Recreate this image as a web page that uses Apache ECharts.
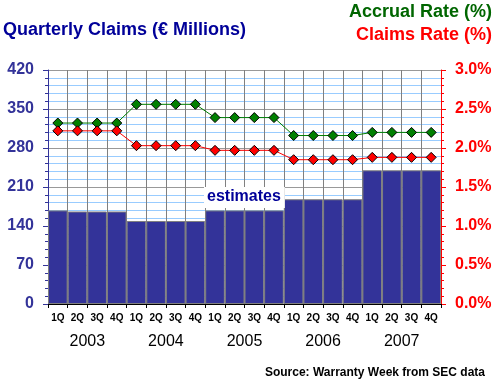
<!DOCTYPE html>
<html><head><meta charset="utf-8">
<script src="https://cdn.jsdelivr.net/npm/echarts@6/dist/echarts.min.js"></script>
<style>html,body{margin:0;padding:0;background:#fff}#c{width:497px;height:388px}</style>
</head><body><div id="c"></div>
<script>
const quarters = ['1Q','2Q','3Q','4Q','1Q','2Q','3Q','4Q','1Q','2Q','3Q','4Q','1Q','2Q','3Q','4Q','1Q','2Q','3Q','4Q'];
const years = ['2003','2004','2005','2006','2007'];
const claims = [168,166,166,166, 149,149,149,149, 168,168,168,168, 188,188,188,188, 240,240,240,240];
const accrualRate = [2.32,2.32,2.32,2.32, 2.56,2.56,2.56,2.56, 2.39,2.39,2.39,2.39, 2.16,2.16,2.16,2.16, 2.20,2.20,2.20,2.20];
const claimsRate = [2.22,2.22,2.22,2.22, 2.03,2.03,2.03,2.03, 1.97,1.97,1.97,1.97, 1.85,1.85,1.85,1.85, 1.88,1.88,1.88,1.88];
const leftTicks = {min:0, max:420, interval:70};
const rightTicks = {min:0, max:3, interval:0.5};

const F = 'Arial, "Liberation Sans", sans-serif';
const chart = echarts.init(document.getElementById('c'), null, {renderer:'canvas'});
chart.setOption({
  animation:false,
  backgroundColor:'#fff',
  grid:{left:48, right:56, top:70, bottom:84, containLabel:false},
  graphic:[
    {type:'text', left:3, top:21, style:{text:'Quarterly Claims (€ Millions)', fill:'#000099', font:'bold 18px '+F}},
    {type:'text', right:5, top:3, style:{text:'Accrual Rate (%)', fill:'#006600', font:'bold 18px '+F}},
    {type:'text', right:5, top:26, style:{text:'Claims Rate (%)', fill:'#ff0000', font:'bold 18px '+F}},
    {type:'text', right:12, top:367, style:{text:'Source: Warranty Week from SEC data', fill:'#000', font:'bold 12px '+F}},
    {type:'text', left:204, top:187, z:100, style:{text:'estimates', fill:'#000099', font:'bold 16px '+F, backgroundColor:'#fff', padding:[2,4,3,3]}}
  ],
  xAxis:[
    {type:'category', data:quarters, position:'bottom', boundaryGap:true,
     axisLine:{lineStyle:{color:'#000', width:1}},
     axisTick:{show:true, interval:0, length:4, lineStyle:{color:'#000'}},
     axisLabel:{interval:0, color:'#000', fontFamily:F, fontSize:10, fontWeight:'bold', margin:8, lineHeight:12},
     splitLine:{show:true, interval:0, lineStyle:{color:'#808080', width:1}}},
    {type:'category', data:years, position:'bottom', boundaryGap:true,
     axisLine:{show:false}, axisTick:{show:false}, splitLine:{show:false},
     axisLabel:{interval:0, color:'#000', fontFamily:F, fontSize:16, margin:29, lineHeight:18}}
  ],
  yAxis:[
    {type:'value', min:leftTicks.min, max:leftTicks.max, interval:leftTicks.interval, position:'left',
     axisLine:{show:true, lineStyle:{color:'#333399', width:1}},
     axisTick:{show:true, length:5, lineStyle:{color:'#333399'}},
     minorTick:{show:true, splitNumber:5, length:3, lineStyle:{color:'#333399'}},
     axisLabel:{color:'#333399', fontFamily:F, fontSize:16, fontWeight:'bold', margin:14},
     splitLine:{show:true, lineStyle:{color:'#999999', width:1}},
     minorSplitLine:{show:true, lineStyle:{color:'#99ccff', width:1}}},
    {type:'value', min:rightTicks.min, max:rightTicks.max, interval:rightTicks.interval, position:'right',
     axisLine:{show:true, lineStyle:{color:'#ff0000', width:1}},
     axisTick:{show:true, length:5, lineStyle:{color:'#ff0000'}},
     minorTick:{show:true, splitNumber:5, length:3, lineStyle:{color:'#ff0000'}},
     axisLabel:{color:'#ff0000', fontFamily:F, fontSize:16, fontWeight:'bold', margin:14,
       formatter:v=>v.toFixed(1)+'%'},
     splitLine:{show:false}, minorSplitLine:{show:false}}
  ],
  series:[
    {type:'bar', name:'Claims', data:claims, xAxisIndex:0, yAxisIndex:0, barCategoryGap:'0%',
     itemStyle:{color:'#333399', borderColor:'#808080', borderWidth:1}, z:2},
    {type:'line', name:'Accrual Rate', data:accrualRate, xAxisIndex:0, yAxisIndex:1,
     symbol:'diamond', symbolSize:10, lineStyle:{color:'#008000', width:1},
     itemStyle:{color:'#008000', borderColor:'#000', borderWidth:1}, z:5},
    {type:'line', name:'Claims Rate', data:claimsRate, xAxisIndex:0, yAxisIndex:1,
     symbol:'diamond', symbolSize:10, lineStyle:{color:'#ff0000', width:1},
     itemStyle:{color:'#ff0000', borderColor:'#000', borderWidth:1}, z:5}
  ]
});
</script></body></html>
